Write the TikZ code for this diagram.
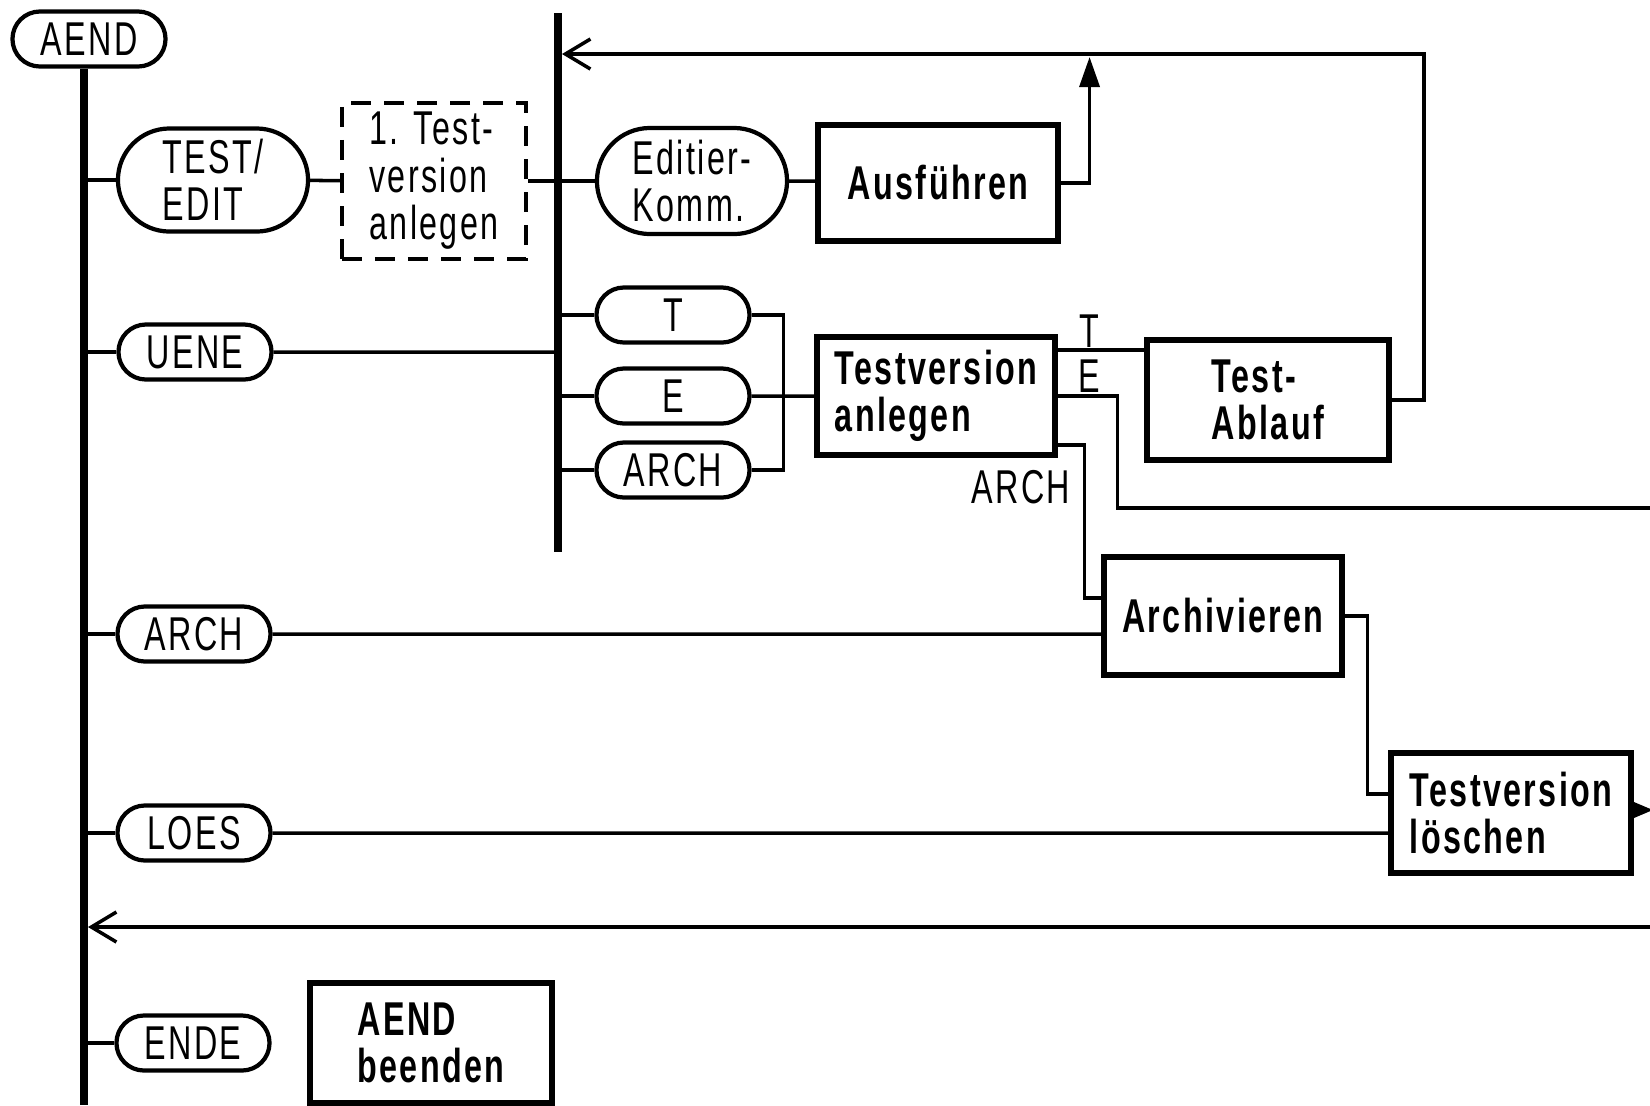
\documentclass[tikz,border=0pt]{standalone}
\usepackage{fontspec}
\setmainfont{Liberation Sans}[FakeStretch=0.68, LetterSpace=5]
\usetikzlibrary{shapes.misc,arrows.meta,calc,positioning}
\newcommand\dgfont{\fontsize{13.5}{13.5}\selectfont}

\begin{document}
\begin{tikzpicture}[x=0.01cm, y=-0.01cm,
  pill/.style={rounded rectangle, draw, line width=1.2pt, inner sep=0pt, minimum height=0.55cm, minimum width=1.53cm, font=\dgfont},
  procbox/.style={draw, line width=1.7pt, inner sep=0pt, align=left, font=\dgfont\bfseries},
  lnk/.style={line width=1pt},
  bar/.style={line width=2.4pt},
  ret/.style={lnk, -{Straight Barb[length=2.5mm, width=3mm]}}]
\useasboundingbox (0,0) rectangle (1650,1105);

\node[pill] (aend) at (89,39) {AEND};
\node[pill, minimum width=1.9cm, minimum height=1.03cm, align=left] (testedit) at (213,180) {TEST/\\EDIT};
\node[draw, dash pattern=on 2mm off 1.3mm, line width=1.2pt, minimum width=1.84cm, minimum height=1.56cm, inner sep=0pt, align=left, font=\dgfont] (first) at (434,181) {1. Test-\\version\\anlegen};
\node[pill, minimum width=1.9cm, minimum height=1.06cm, align=left] (editier) at (692,181) {Editier-\\Komm.};
\node[procbox, minimum width=2.39cm, minimum height=1.15cm] (ausf) at (938,183) {Ausführen};
\node[pill] (pt) at (673,315) {T};
\node[pill] (pe) at (673,396) {E};
\node[pill] (pa) at (673,470) {ARCH};
\node[procbox, minimum width=2.37cm, minimum height=1.17cm] (tva) at (936,396) {Testversion\\anlegen};
\node[procbox, minimum width=2.42cm, minimum height=1.19cm] (ablauf) at (1268,400) {Test-\\Ablauf};
\node[pill] (uene) at (195,352) {UENE};
\node[pill] (arch) at (194,634) {ARCH};
\node[procbox, minimum width=2.37cm, minimum height=1.17cm] (archiv) at (1223,616) {Archivieren};
\node[pill] (loes) at (194,833) {LOES};
\node[procbox, minimum width=2.4cm, minimum height=1.2cm] (tvl) at (1511,813) {Testversion\\löschen};
\node[pill] (ende) at (193,1043) {ENDE};
\node[procbox, minimum width=2.42cm, minimum height=1.19cm] (beenden) at (431,1043) {AEND\\beenden};

\node[font=\dgfont, inner sep=0pt] (lt) at (1089,331) {T};
\node[font=\dgfont, inner sep=0pt] (le) at (1089,376) {E};
\node[font=\dgfont, inner sep=0pt] (la) at (1021,487) {ARCH};

\coordinate (m0) at (84,66);
\coordinate (m1) at (84,1105);
\coordinate (b0) at (558,13);
\coordinate (b1) at (558,552);
\coordinate (r1) at (562,54);
\coordinate (eout) at (1650,508);
\coordinate (back) at (1650,927);
\coordinate (r2) at (88,927);

\draw[bar] (aend.south -| m0) -- (m1);
\draw[bar] (b0) -- (b1);
\foreach \n in {testedit,uene,arch,loes,ende}
  \draw[lnk] (m0 |- \n.west) -- (\n.west);
\foreach \n in {pt,pe,pa}
  \draw[lnk] (b0 |- \n.west) -- (\n.west);
\draw[lnk] (testedit) -- (first);
\draw[lnk] (first) -- (b0 |- first.east);
\draw[lnk] (b0 |- editier.west) -- (editier);
\draw[lnk] (editier) -- (editier -| ausf.west);
\draw[lnk] (uene) -- (b0 |- uene.east);
\draw[lnk] (pt.east) -- ++(32,0) |- (pa.east);
\draw[lnk] (pe) -- (tva);
\draw[lnk] ($(tva.east)+(0,-46)$) coordinate (tt) -- (tt -| ablauf.west);
\draw[lnk] (tva.east) -- ++(60,0) |- (eout);
\draw[lnk] ($(tva.east)+(0,49)$) -- ++(27,0) |- ($(archiv.west)+(0,-18)$);
\draw[lnk] (arch) -- (arch -| archiv.west);
\draw[lnk] (archiv.east) -- ++(23,0) |- ($(tvl.west)+(0,-19)$);
\draw[lnk] (loes) -- (loes -| tvl.west);
\draw[lnk, -{Triangle[length=2.5mm, width=2mm]}] ($(tvl.east)+(0,-3)$) -- ++(19,0);
\draw[ret] (ablauf.east) -- ++(32,0) |- (r1);
\draw[lnk, -{Triangle[length=3mm, width=2mm]}] (ausf.east) -- ++(29,0) -- ++(0,-126);
\draw[ret] (back) -- (r2);
\end{tikzpicture}
\end{document}
